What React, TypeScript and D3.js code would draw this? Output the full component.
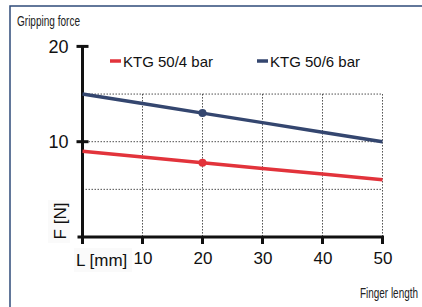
import React, {useEffect, useRef} from 'react';
import * as d3 from "d3";

const lengths = [0, 10, 20, 30, 40, 50]
const force4bar = [9, 8.4, 7.8, 7.2, 6.6, 6]
const force6bar = [15, 14, 13, 12, 11, 10]
const markerAt = 20
const xTicks = [10, 20, 30, 40, 50]
const yTicks = [10, 20]
const yGrid = [5, 10, 15]
const seriesNames = ["KTG 50/4 bar", "KTG 50/6 bar"]
const seriesColors = ["#e2333b", "#34466f"]

const FONT = "'Liberation Sans', Arial, sans-serif"

const App = () => {

  const chart = useRef<SVGSVGElement>(null)

  useEffect(() => {
    const width = 422
    const height = 307

    const svg = d3.select(chart.current)
    svg.selectAll("*").remove()

    const x = d3.scaleLinear().domain([0, 50]).range([82.5, 382.5])
    const y = d3.scaleLinear().domain([0, 20]).range([237, 46.4])

    // frame
    svg.append("rect")
      .attr("x", 10).attr("y", 6)
      .attr("width", width).attr("height", height)
      .attr("fill", "white")
      .attr("stroke", "#2f4b7a")
      .attr("stroke-width", 1.5)

    // condensed captions (squeezed horizontally)
    svg.append("text")
      .attr("transform", "translate(17,26) scale(0.717,1)")
      .attr("font-family", FONT)
      .attr("font-size", 14)
      .attr("fill", "#222")
      .text("Gripping force")

    svg.append("text")
      .attr("transform", "translate(418,298) scale(0.686,1)")
      .attr("text-anchor", "end")
      .attr("font-family", FONT)
      .attr("font-size", 14.5)
      .attr("fill", "#222")
      .text("Finger length")

    // grid
    const grid = svg.append("g")
      .attr("stroke", "#222")
      .attr("stroke-width", 0.8)
      .attr("stroke-dasharray", "1.5,1.5")
    grid.selectAll("line.h").data(yGrid).join("line")
      .attr("x1", x(0)).attr("x2", x(50))
      .attr("y1", d => y(d)).attr("y2", d => y(d))
    grid.selectAll("line.v").data(xTicks).join("line")
      .attr("x1", d => x(d)).attr("x2", d => x(d))
      .attr("y1", y(15)).attr("y2", y(0))

    // axes
    const yAxis = svg.append("g")
      .attr("transform", `translate(${x(0)},0)`)
      .call(d3.axisLeft(y).tickValues(yTicks).tickSize(0).tickPadding(14).tickFormat(d3.format("d")))
    yAxis.select(".domain").remove()
    yAxis.selectAll(".tick text")
      .attr("font-family", FONT)
      .attr("font-size", 18)
      .attr("fill", "#111")
    yAxis.append("line")
      .attr("x1", 0).attr("x2", 0)
      .attr("y1", y(20)).attr("y2", y(0) + 1)
      .attr("stroke", "#111").attr("stroke-width", 3)
    yAxis.selectAll("line.tk").data(yTicks).join("line")
      .attr("class", "tk")
      .attr("x1", -6).attr("x2", 6)
      .attr("y1", d => y(d)).attr("y2", d => y(d))
      .attr("stroke", "#111").attr("stroke-width", 3)

    const xAxis = svg.append("g")
      .attr("transform", `translate(0,${y(0)})`)
      .call(d3.axisBottom(x).tickValues(xTicks).tickSize(0).tickPadding(15).tickFormat(d3.format("d")))
    xAxis.select(".domain").remove()
    xAxis.selectAll(".tick text")
      .attr("font-family", FONT)
      .attr("font-size", 17)
      .attr("fill", "#111")
    xAxis.append("line")
      .attr("x1", x(0) - 5).attr("x2", x(50) + 1.5)
      .attr("y1", 0).attr("y2", 0)
      .attr("stroke", "#111").attr("stroke-width", 3)
    xAxis.selectAll("line.tk").data([0, ...xTicks]).join("line")
      .attr("class", "tk")
      .attr("x1", d => x(d)).attr("x2", d => x(d))
      .attr("y1", 0).attr("y2", 7)
      .attr("stroke", "#111").attr("stroke-width", 3)

    // axis titles
    svg.append("rect")
      .attr("x", 48).attr("y", 200).attr("width", 22).attr("height", 43)
      .attr("fill", "#fafafa")
    svg.append("text")
      .attr("transform", `translate(66,${221}) rotate(-90)`)
      .attr("text-anchor", "middle")
      .attr("font-family", FONT)
      .attr("font-size", 17)
      .attr("fill", "#111")
      .text("F [N]")
    svg.append("rect")
      .attr("x", 74).attr("y", 248).attr("width", 58).attr("height", 24)
      .attr("fill", "#fafafa")
    svg.append("text")
      .attr("x", 76).attr("y", 266)
      .attr("font-family", FONT)
      .attr("font-size", 17)
      .attr("fill", "#111")
      .text("L [mm]")

    // lines
    const series = [force4bar, force6bar]
    const line = d3.line<number>()
      .x((d, i) => x(lengths[i]))
      .y(d => y(d))

    series.forEach((vals, s) => {
      svg.append("path")
        .datum(vals)
        .attr("fill", "none")
        .attr("stroke", seriesColors[s])
        .attr("stroke-width", 3.5)
        .attr("d", line)
      const i = lengths.indexOf(markerAt)
      svg.append("circle")
        .attr("cx", x(lengths[i])).attr("cy", y(vals[i]))
        .attr("r", 4)
        .attr("fill", seriesColors[s])
    })

    // legend
    const legendX = [110, 257]
    seriesNames.forEach((name, s) => {
      const g = svg.append("g").attr("transform", `translate(${legendX[s]},61)`)
      g.append("line")
        .attr("x1", 0).attr("x2", 11)
        .attr("stroke", seriesColors[s]).attr("stroke-width", 3.5)
      g.append("text")
        .attr("x", 13).attr("y", 5.5)
        .attr("font-family", FONT)
        .attr("font-size", 15)
        .attr("fill", "#111")
        .text(name)
    })
  }, []);

  return (
    <svg ref={chart} width={422} height={307}
      style={{position: "absolute", left: 0, top: 0, display: "block"}}/>
  );
};

export default App;
